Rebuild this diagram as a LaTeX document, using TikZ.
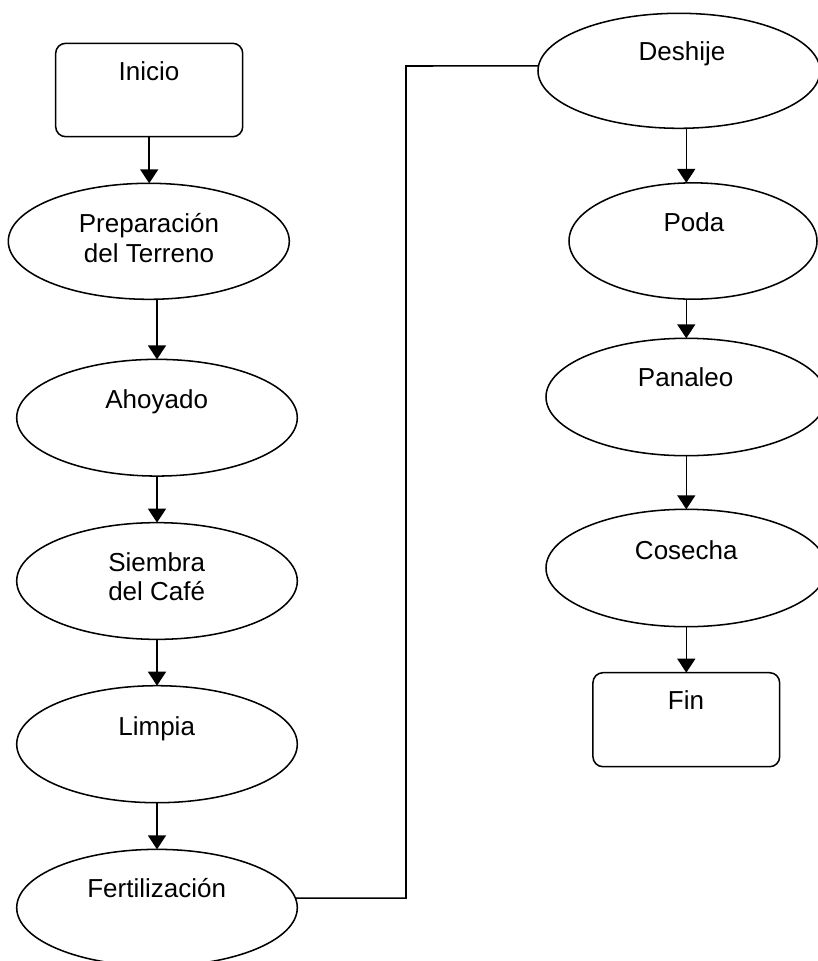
\documentclass[tikz,border=0pt]{standalone}
\usepackage{fontspec}
\setmainfont{Liberation Sans}
\usetikzlibrary{shapes.geometric,arrows.meta}
\tikzset{
  sz/.style 2 args={minimum width=#1*0.75pt, minimum height=#2*0.75pt},
  ell/.style={draw, ellipse, line width=1.15pt, inner sep=0pt, outer sep=0pt},
  rbox/.style={draw, rectangle, rounded corners=7.5pt, line width=1.15pt, inner sep=0pt, outer sep=0pt},
  txt/.style={font=\fontsize{19.5}{22.5}\selectfont, inner sep=0pt, anchor=base},
  conn/.style={line width=1.15pt},
  arr/.style={line width=1.15pt, -{Triangle[length=10.5pt,width=13.5pt]}}
}
\begin{document}
\begin{tikzpicture}[x=0.75pt,y=-0.75pt]
\useasboundingbox (0,0) rectangle (818,961);
% shapes
\node[rbox, sz={187}{93.4}] (ini) at (149.2,90) {};
\node[ell, sz={281}{116}] (prep) at (148.8,241.3) {};
\node[ell, sz={280.6}{116.7}] (ahoy) at (157,417.7) {};
\node[ell, sz={280.6}{116.7}] (siem) at (157,581) {};
\node[ell, sz={280.6}{117}] (limp) at (157,744.2) {};
\node[ell, sz={280.6}{116.7}] (fert) at (157,907.7) {};
\node[ell, sz={282}{115}] (desh) at (679,70.8) {};
\node[ell, sz={248}{116.3}] (poda) at (693,241) {};
\node[ell, sz={280.6}{117.4}] (pan) at (686.3,397) {};
\node[ell, sz={280.6}{117.4}] (cos) at (686.3,568) {};
\node[rbox, sz={186.7}{94}] (fin) at (686.3,719.7) {};
% texts
\node[txt] (tini) at (149,80.7) {Inicio};
\node[txt] (tprep1) at (149,232.3) {Preparación};
\node[txt] (tprep2) at (149,262.3) {del Terreno};
\node[txt] (tahoy) at (156.7,408.3) {Ahoyado};
\node[txt] (tsiem1) at (156.7,571.7) {Siembra};
\node[txt] (tsiem2) at (156.7,600.7) {del Café};
\node[txt] (tlimp) at (156.7,735) {Limpia};
\node[txt] (tfert) at (156.7,897.7) {Fertilización};
\node[txt] (tdesh) at (682,60.7) {Deshije};
\node[txt] (tpoda) at (694,231.7) {Poda};
\node[txt] (tpan) at (685.7,386.7) {Panaleo};
\node[txt] (tcos) at (686.3,559) {Cosecha};
\node[txt] (tfin) at (686,709) {Fin};
% connectors
\draw[arr] (ini.south) -- (ini.south |- prep.north);
\draw[arr] (ahoy.north |- prep.south) -- (ahoy.north);
\draw[arr] (ahoy.south) -- (siem.north);
\draw[arr] (siem.south) -- (limp.north);
\draw[arr] (limp.south) -- (fert.north);
\coordinate (jx) at (406,66);
\draw[conn] (fert.4.86) -| (jx) -- (desh.178);
\draw[arr] (desh.south -| pan.north) -- (poda.north -| pan.north);
\draw[arr] (poda.south -| pan.north) -- (pan.north);
\draw[arr] (pan.south) -- (cos.north);
\draw[arr] (cos.south) -- (fin.north);
\end{tikzpicture}
\end{document}
